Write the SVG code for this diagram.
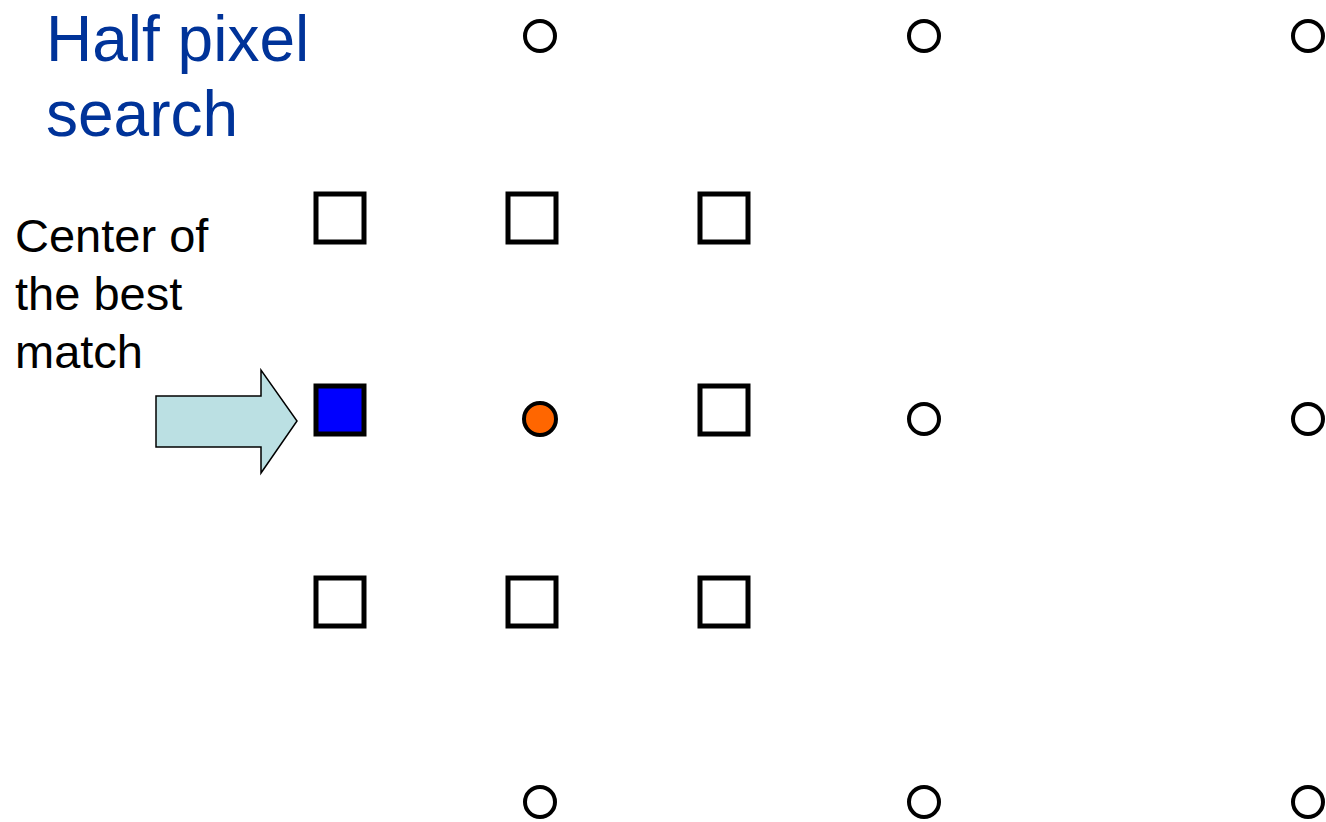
<svg xmlns="http://www.w3.org/2000/svg" width="1326" height="822" viewBox="0 0 1326 822">
<style>
.title{font-family:"Liberation Sans",Arial,sans-serif;font-size:64px;fill:#003399}
.label{font-family:"Liberation Sans",Arial,sans-serif;font-size:47px;fill:#000}
.pt{fill:#fff;stroke:#000;stroke-width:4}
.sq{fill:#fff;stroke:#000;stroke-width:5}
</style>
<rect width="1326" height="822" fill="#fff"/>
<g id="title"><text class="title" x="46" y="61">Half pixel</text><text class="title" x="46" y="136">search</text></g>
<g id="label"><text class="label" x="15" y="252">Center of</text><text class="label" x="15" y="310">the best</text><text class="label" x="15" y="368">match</text></g>
<g id="full-pixels">
<circle class="pt" cx="540" cy="36" r="15"/>
<circle class="pt" cx="924" cy="36" r="15"/>
<circle class="pt" cx="1308" cy="36" r="15"/>
<circle class="pt" cx="924" cy="419" r="15"/>
<circle class="pt" cx="1308" cy="419" r="15"/>
<circle class="pt" cx="540" cy="802" r="15"/>
<circle class="pt" cx="924" cy="802" r="15"/>
<circle class="pt" cx="1308" cy="802" r="15"/>
</g>
<g id="orange"><circle cx="540" cy="419" r="16" fill="#FF6600" stroke="#000" stroke-width="4"/></g>
<g id="half-pixels">
<rect class="sq" x="316" y="194" width="48" height="48"/>
<rect class="sq" x="508" y="194" width="48" height="48"/>
<rect class="sq" x="700" y="194" width="48" height="48"/>
<rect class="sq" x="700" y="386" width="48" height="48"/>
<rect class="sq" x="316" y="578" width="48" height="48"/>
<rect class="sq" x="508" y="578" width="48" height="48"/>
<rect class="sq" x="700" y="578" width="48" height="48"/>
</g>
<g id="best"><rect x="316" y="386" width="48" height="48" fill="#0000FF" stroke="#000" stroke-width="5"/></g>
<g id="connectors"><polygon points="156,396 261,396 261,370 297,421 261,473 261,447 156,447" fill="#BBE0E3" stroke="#000" stroke-width="1.5"/></g>
</svg>
